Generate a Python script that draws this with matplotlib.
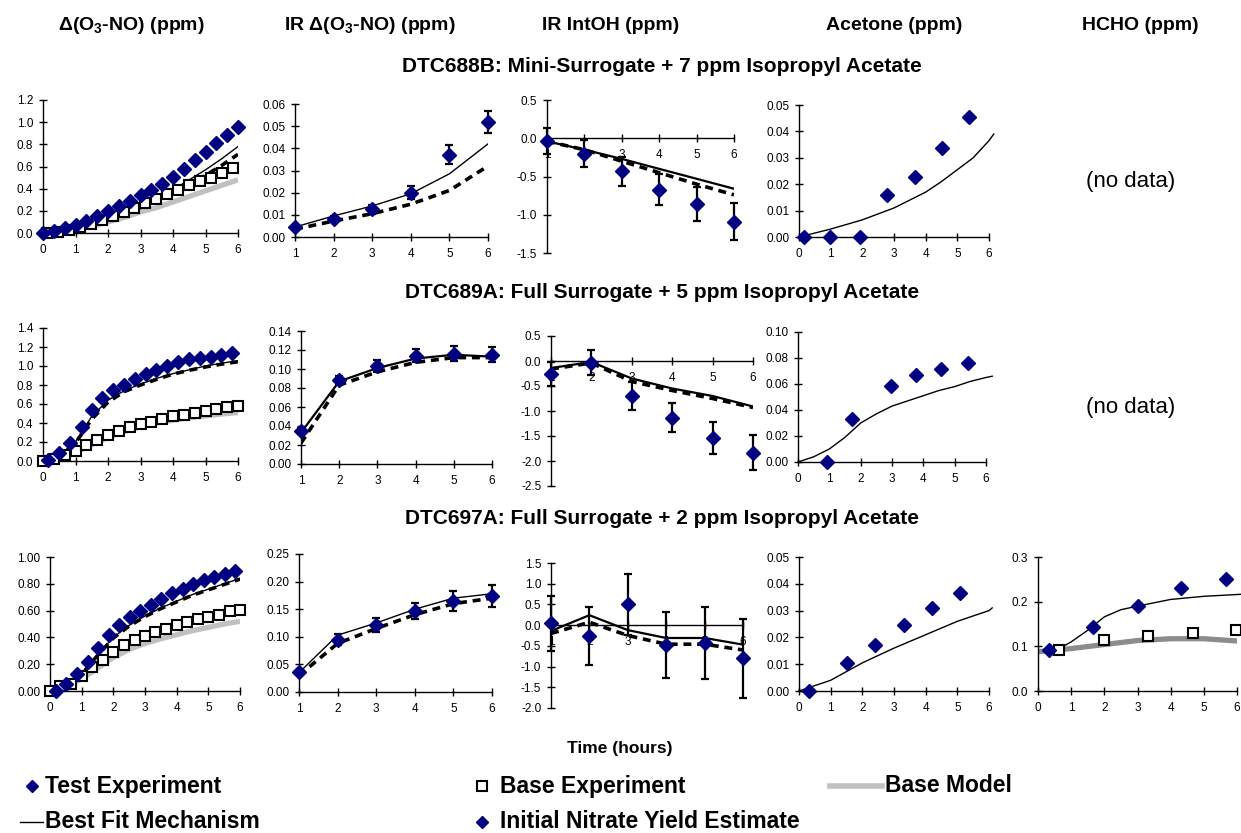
import numpy as np
import matplotlib.pyplot as plt
from matplotlib.lines import Line2D

plt.rcParams['font.family'] = ['Liberation Sans', 'DejaVu Sans']
plt.rcParams['mathtext.fontset'] = 'custom'
plt.rcParams['mathtext.rm'] = 'Liberation Sans:bold'
plt.rcParams['mathtext.bf'] = 'Liberation Sans:bold'
plt.rcParams['mathtext.it'] = 'Liberation Sans:bold'

# ---- data ----
col_titles = ['Δ(O$_3$-NO) (ppm)', 'IR Δ(O$_3$-NO) (ppm)', 'IR IntOH (ppm)',
              'Acetone (ppm)', 'HCHO (ppm)']
row_titles = ['DTC688B: Mini-Surrogate + 7 ppm Isopropyl Acetate',
              'DTC689A: Full Surrogate + 5 ppm Isopropyl Acetate',
              'DTC697A: Full Surrogate + 2 ppm Isopropyl Acetate']

t_half = [0, 0.5, 1, 1.5, 2, 2.5, 3, 3.5, 4, 4.5, 5, 5.5, 6]
t_ir = [1, 2, 3, 4, 5, 6]
t_third = [0, 0.33, 0.67, 1.0, 1.33, 1.67, 2.0, 2.33, 2.67, 3.0, 3.33,
           3.67, 4.0, 4.33, 4.67, 5.0, 5.33, 5.67, 6.0]

# DTC688B
r1_t_test = t_third
r1_d_test = [0.0, 0.015, 0.045, 0.075, 0.11, 0.155, 0.195, 0.24, 0.285, 0.345,
             0.39, 0.445, 0.505, 0.575, 0.655, 0.735, 0.81, 0.885, 0.96]
r1_t_base = [0.12, 0.46, 0.79, 1.13, 1.47, 1.8, 2.14, 2.48, 2.81, 3.15, 3.49,
             3.82, 4.16, 4.5, 4.83, 5.17, 5.51, 5.84]
r1_d_base = [0.0, 0.012, 0.03, 0.055, 0.085, 0.115, 0.15, 0.19, 0.23, 0.27,
             0.31, 0.35, 0.39, 0.43, 0.465, 0.5, 0.54, 0.585]
r1_d_fit = [0, 0.015, 0.04, 0.08, 0.13, 0.19, 0.25, 0.32, 0.39, 0.48, 0.57, 0.67, 0.78]
r1_d_init = [0, 0.012, 0.035, 0.07, 0.12, 0.17, 0.23, 0.29, 0.36, 0.44, 0.52, 0.61, 0.71]
r1_d_basemod = [0, 0.01, 0.03, 0.06, 0.1, 0.14, 0.19, 0.23, 0.28, 0.33, 0.38, 0.43, 0.48]

r1_ir = [0.0045, 0.0083, 0.0125, 0.020, 0.0372, 0.052]
r1_ir_err = [0.0005, 0.001, 0.002, 0.003, 0.0042, 0.005]
r1_ir_fit = [0.0045, 0.0095, 0.014, 0.0195, 0.0285, 0.042]
r1_ir_init = [0.0035, 0.0072, 0.0105, 0.0148, 0.021, 0.032]

r1_oh = [-0.03, -0.2, -0.43, -0.67, -0.86, -1.09]
r1_oh_err = [0.17, 0.18, 0.19, 0.2, 0.22, 0.24]
r1_oh_fit = [-0.04, -0.15, -0.27, -0.4, -0.53, -0.66]
r1_oh_init = [-0.04, -0.15, -0.3, -0.45, -0.6, -0.74]

r1_t_ace = [0.15, 0.99, 1.94, 2.79, 3.67, 4.53, 5.37]
r1_ace = [0, 0, 0, 0.016, 0.0229, 0.0336, 0.0456]
r1_t_ace_fit = [0, 1, 2, 3, 4, 4.5, 5, 5.5, 6, 6.15]
r1_ace_fit = [0, 0.003, 0.0065, 0.011, 0.017, 0.021, 0.0255, 0.030, 0.0365, 0.039]

# DTC689A
r2_t_test = [0.16, 0.5, 0.83, 1.19, 1.5, 1.83, 2.16, 2.5, 2.83, 3.16, 3.49,
             3.83, 4.16, 4.49, 4.82, 5.16, 5.49, 5.82]
r2_d_test = [0.01, 0.08, 0.19, 0.355, 0.54, 0.66, 0.75, 0.80, 0.86, 0.915,
             0.96, 1.0, 1.04, 1.07, 1.085, 1.10, 1.12, 1.14]
r2_t_base = t_third
r2_d_base = [0, 0.02, 0.06, 0.11, 0.17, 0.22, 0.275, 0.32, 0.36, 0.39, 0.415,
             0.44, 0.47, 0.485, 0.51, 0.53, 0.55, 0.565, 0.58]
r2_d_fit = [0, 0.06, 0.2, 0.47, 0.64, 0.74, 0.81, 0.87, 0.92, 0.96, 1.0, 1.03, 1.055]
r2_d_init = [0, 0.05, 0.19, 0.44, 0.62, 0.73, 0.8, 0.86, 0.915, 0.955, 0.99, 1.02, 1.045]
r2_d_basemod = [0, 0.03, 0.09, 0.17, 0.25, 0.31, 0.36, 0.4, 0.43, 0.455, 0.475, 0.495, 0.51]

r2_ir = [0.035, 0.088, 0.103, 0.114, 0.116, 0.115]
r2_ir_err = [0.003, 0.005, 0.006, 0.007, 0.008, 0.008]
r2_ir_fit = [0.033, 0.087, 0.101, 0.111, 0.115, 0.113]
r2_ir_init = [0.022, 0.083, 0.097, 0.107, 0.112, 0.112]

r2_oh = [-0.25, -0.03, -0.7, -1.13, -1.53, -1.83]
r2_oh_err = [0.24, 0.25, 0.28, 0.29, 0.32, 0.35]
r2_oh_fit = [-0.14, -0.02, -0.35, -0.55, -0.7, -0.91]
r2_oh_init = [-0.16, -0.04, -0.41, -0.59, -0.75, -0.93]

r2_t_ace = [0.91, 1.73, 2.96, 3.77, 4.57, 5.44]
r2_ace = [0, 0.033, 0.0587, 0.0667, 0.0715, 0.0762]
r2_t_ace_fit = [0, 0.5, 1, 1.5, 2, 2.5, 3, 3.5, 4, 4.5, 5, 5.5, 6, 6.2]
r2_ace_fit = [0, 0.004, 0.01, 0.019, 0.03, 0.037, 0.043, 0.047, 0.051, 0.055,
              0.058, 0.062, 0.065, 0.066]

# DTC697A
r3_t_test = [0.19, 0.52, 0.85, 1.19, 1.52, 1.85, 2.19, 2.52, 2.85, 3.19, 3.52,
             3.85, 4.19, 4.52, 4.85, 5.19, 5.52, 5.85]
r3_d_test = [0.0, 0.055, 0.125, 0.216, 0.323, 0.42, 0.49, 0.552, 0.6, 0.644,
             0.69, 0.73, 0.764, 0.796, 0.826, 0.85, 0.876, 0.896]
r3_t_base = t_third
r3_d_base = [0, 0.035, 0.055, 0.11, 0.18, 0.235, 0.29, 0.345, 0.38, 0.41, 0.44,
             0.465, 0.49, 0.515, 0.535, 0.55, 0.57, 0.595, 0.605]
r3_d_fit = [0, 0.04, 0.13, 0.27, 0.4, 0.49, 0.56, 0.62, 0.67, 0.72, 0.76, 0.8, 0.84]
r3_d_init = [0, 0.035, 0.125, 0.265, 0.395, 0.485, 0.555, 0.615, 0.665, 0.715, 0.755, 0.795, 0.835]
r3_d_basemod = [0, 0.03, 0.09, 0.17, 0.25, 0.31, 0.355, 0.39, 0.42, 0.45, 0.475, 0.5, 0.52]

r3_ir = [0.0356, 0.0948, 0.121, 0.147, 0.165, 0.1745]
r3_ir_err = [0.003, 0.01, 0.013, 0.015, 0.018, 0.02]
r3_ir_fit = [0.035, 0.103, 0.125, 0.15, 0.17, 0.178]
r3_ir_init = [0.03, 0.088, 0.115, 0.14, 0.16, 0.17]

r3_oh = [0.04, -0.26, 0.5, -0.48, -0.42, -0.8]
r3_oh_err = [0.66, 0.69, 0.74, 0.8, 0.87, 0.95]
r3_oh_fit = [-0.14, 0.24, -0.12, -0.31, -0.31, -0.47]
r3_oh_init = [-0.2, 0.07, -0.25, -0.46, -0.46, -0.6]

r3_t_ace = [0.3, 1.51, 2.4, 3.31, 4.2, 5.08]
r3_ace = [0, 0.0104, 0.0172, 0.0246, 0.031, 0.0366]
r3_t_ace_fit = [0, 1, 2, 3, 4, 5, 6, 6.1]
r3_ace_fit = [0, 0.004, 0.0105, 0.016, 0.021, 0.026, 0.03, 0.031]

r3_t_hcho = [0.32, 1.66, 3.0, 4.32, 5.67]
r3_hcho = [0.0925, 0.143, 0.19, 0.231, 0.251]
r3_t_hcho_base = [0.64, 1.99, 3.33, 4.66, 5.98]
r3_hcho_base = [0.0925, 0.115, 0.124, 0.13, 0.136]
r3_t_hcho_fit = [0.64, 1, 1.5, 2, 2.5, 3, 4, 5, 6, 6.2]
r3_hcho_fit = [0.095, 0.11, 0.136, 0.166, 0.182, 0.19, 0.205, 0.212, 0.216, 0.217]
r3_t_hcho_basemod = [0, 1, 2, 3, 4, 5, 6, 6.2]
r3_hcho_basemod = [0.088, 0.095, 0.104, 0.113, 0.117, 0.117, 0.112, 0.111]

# ---- styling ----
W, H = 1241, 833
NAVY = '#000080'
GREY = '#c0c0c0'
fig = plt.figure(figsize=(W / 100, H / 100), dpi=100)


def panel(l, r, t, b, xlim, ylim, ystep, fmt, cross_zero=False):
    ax = fig.add_axes([l / W, 1 - b / H, (r - l) / W, (b - t) / H])
    ax.set_xlim(*xlim)
    ax.set_ylim(*ylim)
    ax.spines['top'].set_visible(False)
    ax.spines['right'].set_visible(False)
    for s in ('left', 'bottom'):
        ax.spines[s].set_linewidth(1.0)
    if cross_zero:
        ax.spines['bottom'].set_position(('data', 0))
    ax.set_xticks(range(int(xlim[0]), 7))
    yt = np.arange(ylim[0], ylim[1] + ystep / 2, ystep)
    ax.set_yticks(yt)
    ax.set_yticklabels([fmt.format(v) for v in yt])
    ax.tick_params(direction='inout', length=6, width=1.0, labelsize=8.5)
    ax.tick_params(axis='x', pad=5)
    ax.tick_params(axis='y', pad=4)
    ax.patch.set_alpha(0)
    return ax


def test_pts(ax, t, v, ms=7):
    ax.plot(t, v, ls='none', marker='D', ms=ms, color=NAVY, zorder=6, clip_on=False)


def base_pts(ax, t, v):
    ax.plot(t, v, ls='none', marker='s', ms=6.5, mfc='white', mec='black',
            mew=1.5, zorder=5, clip_on=False)


def fit_line(ax, t, v, lw=1.0):
    ax.plot(t, v, color='black', lw=lw, zorder=4)


def init_line(ax, t, v):
    ax.plot(t, v, color='black', lw=2.6, dashes=(2.2, 1.6), zorder=3)


def basemod_line(ax, t, v, color=GREY):
    ax.plot(t, v, color=color, lw=3.8, zorder=2, solid_capstyle='butt')


def ir_panel(ax, v, err, fit, init, lw_fit=1.0):
    init_line(ax, t_ir, init)
    fit_line(ax, t_ir, fit, lw_fit)
    ax.errorbar(t_ir, v, yerr=err, fmt='none', ecolor='black', elinewidth=1.6,
                capsize=3, capthick=1.6, zorder=5, clip_on=False)
    test_pts(ax, t_ir, v)


# Row 1 -- DTC688B
ax = panel(43, 238, 100, 233, (0, 6), (0, 1.2), 0.2, '{:.1f}')
basemod_line(ax, t_half, r1_d_basemod)
init_line(ax, t_half, r1_d_init)
fit_line(ax, t_half, r1_d_fit)
base_pts(ax, r1_t_base, r1_d_base)
test_pts(ax, r1_t_test, r1_d_test)

ax = panel(295, 488, 104, 237, (1, 6), (0, 0.06), 0.01, '{:.2f}')
ir_panel(ax, r1_ir, r1_ir_err, r1_ir_fit, r1_ir_init)

ax = panel(547, 734, 100, 253, (1, 6), (-1.5, 0.5), 0.5, '{:.1f}', cross_zero=True)
ir_panel(ax, r1_oh, r1_oh_err, r1_oh_fit, r1_oh_init, lw_fit=1.6)

ax = panel(799, 989, 105, 237, (0, 6), (0, 0.05), 0.01, '{:.2f}')
ax.plot(r1_t_ace_fit, r1_ace_fit, color='black', lw=1.0, clip_on=False)
test_pts(ax, r1_t_ace, r1_ace)

fig.text(1131 / W, 1 - 182 / H, '(no data)', ha='center', va='center', fontsize=16)

# Row 2 -- DTC689A
ax = panel(43, 238, 328, 461, (0, 6), (0, 1.4), 0.2, '{:.1f}')
basemod_line(ax, t_half, r2_d_basemod)
init_line(ax, t_half, r2_d_init)
fit_line(ax, t_half, r2_d_fit)
base_pts(ax, r2_t_base, r2_d_base)
test_pts(ax, r2_t_test, r2_d_test)

ax = panel(301, 492, 331, 464, (1, 6), (0, 0.14), 0.02, '{:.2f}')
ir_panel(ax, r2_ir, r2_ir_err, r2_ir_fit, r2_ir_init, lw_fit=1.6)

ax = panel(551, 753, 336, 486, (1, 6), (-2.5, 0.5), 0.5, '{:.1f}', cross_zero=True)
ir_panel(ax, r2_oh, r2_oh_err, r2_oh_fit, r2_oh_init, lw_fit=1.6)

ax = panel(798, 986, 332, 462, (0, 6), (0, 0.10), 0.02, '{:.2f}')
ax.plot(r2_t_ace_fit, r2_ace_fit, color='black', lw=1.0, clip_on=False)
test_pts(ax, r2_t_ace, r2_ace)

fig.text(1131 / W, 1 - 408 / H, '(no data)', ha='center', va='center', fontsize=16)

# Row 3 -- DTC697A
ax = panel(50, 240, 557, 691, (0, 6), (0, 1.0), 0.2, '{:.2f}')
basemod_line(ax, t_half, r3_d_basemod)
init_line(ax, t_half, r3_d_init)
fit_line(ax, t_half, r3_d_fit)
base_pts(ax, r3_t_base, r3_d_base)
test_pts(ax, r3_t_test, r3_d_test)

ax = panel(299, 492, 554, 692, (1, 6), (0, 0.25), 0.05, '{:.2f}')
ir_panel(ax, r3_ir, r3_ir_err, r3_ir_fit, r3_ir_init)

ax = panel(551, 743, 563, 708, (1, 6), (-2.0, 1.5), 0.5, '{:.1f}', cross_zero=True)
ir_panel(ax, r3_oh, r3_oh_err, r3_oh_fit, r3_oh_init, lw_fit=1.6)

ax = panel(799, 989, 557, 691, (0, 6), (0, 0.05), 0.01, '{:.2f}')
ax.plot(r3_t_ace_fit, r3_ace_fit, color='black', lw=1.0, clip_on=False)
test_pts(ax, r3_t_ace, r3_ace)

ax = panel(1038, 1237, 557, 691, (0, 6), (0, 0.3), 0.1, '{:.1f}')
basemod_line(ax, r3_t_hcho_basemod, r3_hcho_basemod, color='#8c8c8c')
ax.plot(r3_t_hcho_fit, r3_hcho_fit, color='black', lw=1.0, clip_on=False)
base_pts(ax, r3_t_hcho_base, r3_hcho_base)
test_pts(ax, r3_t_hcho, r3_hcho)

# ---- titles ----
for x, s in zip([131, 370, 611, 894, 1140], col_titles):
    fig.text(x / W, 1 - 25 / H, s, ha='center', va='center', fontsize=14,
             fontweight='bold')
for y, s in zip([66, 292, 519], row_titles):
    fig.text(662 / W, 1 - y / H, s, ha='center', va='center', fontsize=15,
             fontweight='bold')
fig.text(620 / W, 1 - 748 / H, 'Time (hours)', ha='center', va='center',
         fontsize=12.5, fontweight='bold')


# ---- legend (drawn by hand to keep the reference's layout) ----
def fx(px):
    return px / W


def fy(py):
    return 1 - py / H


LEG = 16.5
fig.add_artist(Line2D([fx(32)], [fy(786)], ls='none', marker='D', ms=6,
                      color=NAVY, transform=fig.transFigure))
fig.text(fx(45), fy(786), 'Test Experiment', va='center', fontsize=LEG, fontweight='bold')
fig.add_artist(Line2D([fx(482)], [fy(786)], ls='none', marker='s', ms=6.5,
                      mfc='white', mec='black', mew=1.5, transform=fig.transFigure))
fig.text(fx(500), fy(786), 'Base Experiment', va='center', fontsize=LEG, fontweight='bold')
fig.add_artist(Line2D([fx(830), fx(882)], [fy(786), fy(786)], color=GREY, lw=4,
                      transform=fig.transFigure))
fig.text(fx(885), fy(786), 'Base Model', va='center', fontsize=LEG, fontweight='bold')
fig.add_artist(Line2D([fx(20), fx(43)], [fy(822), fy(822)], color='black', lw=1.0,
                      transform=fig.transFigure))
fig.text(fx(45), fy(822), 'Best Fit Mechanism', va='center', fontsize=LEG, fontweight='bold')
fig.add_artist(Line2D([fx(482)], [fy(822)], ls='none', marker='D', ms=6,
                      color=NAVY, transform=fig.transFigure))
fig.text(fx(500), fy(822), 'Initial Nitrate Yield Estimate', va='center', fontsize=LEG,
         fontweight='bold')

fig.savefig('out.png', dpi=100)
